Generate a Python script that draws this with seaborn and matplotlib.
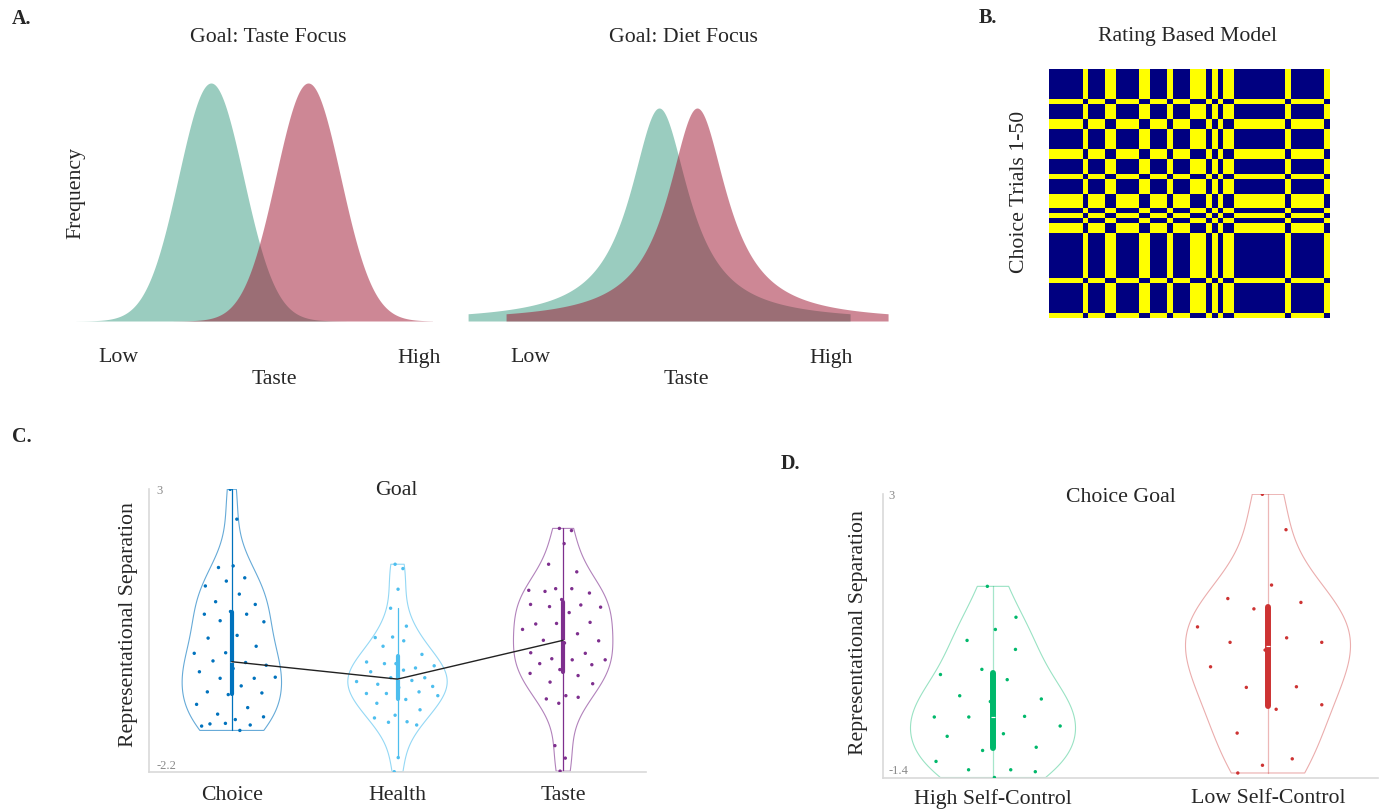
import numpy as np
import pandas as pd
import matplotlib
matplotlib.use("Agg")
import matplotlib.pyplot as plt
import seaborn as sns
from matplotlib.colors import ListedColormap

# ---------------- data ----------------
# A. illustrative taste distributions (location / spread on the taste scale)
taste_focus_means = [3.86, 6.56]      # green, red
taste_focus_sd = 0.9
diet_focus_locs = [5.50, 6.56]        # green, red
diet_focus_scale = 1.0

# B. rating based category of the 50 choice trials
trial_category = [0, 0, 0, 0, 0, 0, 1, 0, 0, 0,
                  1, 1, 0, 0, 0, 0, 1, 1, 0, 0,
                  0, 1, 0, 0, 0, 1, 1, 1, 0, 1,
                  0, 1, 1, 0, 0, 0, 0, 0, 0, 0,
                  0, 0, 1, 0, 0, 0, 0, 0, 0, 1]

# C. representational separation by goal
goal_names = ["Choice", "Health", "Taste"]
choice_vals = [3.0, 2.45, 1.59, 1.56, 1.37, 1.31, 1.22, 1.07, 0.93, 0.88, 0.75, 0.70,
               0.70, 0.58, 0.56, 0.31, 0.26, 0.11, -0.01, -0.02, -0.19, -0.16, -0.24,
               -0.30, -0.36, -0.48, -0.48, -0.46, -0.62, -0.73, -0.75, -0.78, -0.96,
               -1.02, -1.14, -1.19, -1.24, -1.32, -1.34, -1.31, -1.36, -1.44]
health_vals = [1.62, 1.54, 1.16, 0.81, 0.48, 0.28, 0.27, 0.21, 0.11, -0.04, -0.21, -0.18,
               -0.29, -0.21, -0.25, -0.33, -0.36, -0.47, -0.47, -0.54, -0.52, -0.59,
               -0.63, -0.65, -0.76, -0.73, -0.76, -0.80, -0.87, -0.94, -1.06, -1.16,
               -1.21, -1.28, -1.29, -1.34, -1.94, -2.20]
taste_vals = [2.28, 2.24, 2.00, 1.62, 1.48, 1.17, 1.14, 1.17, 1.12, 1.09, 0.97, 0.88,
              0.87, 0.84, 0.83, 0.73, 0.52, 0.55, 0.53, 0.42, 0.34, 0.22, 0.21, 0.17,
              -0.01, -0.02, -0.12, -0.14, -0.14, -0.21, -0.23, -0.32, -0.39, -0.43,
              -0.55, -0.58, -0.80, -0.86, -0.83, -0.94, -1.72, -1.95, -2.19]

# D. choice goal separation by self-control group
sc_names = ["High Self-Control", "Low Self-Control"]
high_sc_vals = [1.57, 1.09, 0.90, 0.73, 0.59, 0.28, 0.20, 0.12, -0.13, -0.18, -0.22,
                -0.46, -0.45, -0.46, -0.60, -0.72, -0.76, -0.93, -0.98, -1.15, -1.28,
                -1.28, -1.31, -1.40]
low_sc_vals = [3.0, 2.45, 1.59, 1.38, 1.32, 1.22, 0.94, 0.77, 0.70, 0.70, 0.58, 0.32,
               0.01, 0.0, -0.27, -0.34, -0.71, -1.11, -1.21, -1.33]

# colours
dist_colors = ["#9ACCBF", "#9D112D"]
goal_colors = ["#0072BD", "#4DBEEE", "#7E2F8E"]
sc_colors = ["#00B86B", "#CD3333"]

# ---------------- setup ----------------
sns.set_theme(style="white")
plt.rcParams["font.family"] = ["Liberation Serif", "DejaVu Serif"]
LBL = 15.7

W, H = 1381, 810
fig = plt.figure(figsize=(W / 100, H / 100), dpi=100)


def px_axes(x0, y0, x1, y1):
    return fig.add_axes([x0 / W, 1 - y1 / H, (x1 - x0) / W, (y1 - y0) / H])


def px_text(x, y, s, **kw):
    kw.setdefault("ha", "center")
    kw.setdefault("va", "center")
    kw.setdefault("fontsize", LBL)
    fig.text(x / W, 1 - y / H, s, **kw)


def norm_pdf(x, m, s):
    return np.exp(-0.5 * ((x - m) / s) ** 2) / (s * np.sqrt(2 * np.pi))


def cauchy_pdf(x, m, g):
    return 1 / (np.pi * g * (1 + ((x - m) / g) ** 2))


def jitter_x(vals, pos, half_width=0.3):
    # spread points inside the violin, scaled by the kde
    v = np.asarray(vals, dtype=float)
    bw = v.std(ddof=1) * len(v) ** (-1 / 5)
    grid = np.linspace(v.min(), v.max(), 200)

    def dens(y):
        return np.exp(-0.5 * ((y[:, None] - v[None, :]) / bw) ** 2).sum(1)

    scale = dens(v) / dens(grid).max()
    u = ((np.arange(len(v)) * 0.618034 + 0.3) % 1) * 2 - 1
    return pos + u * half_width * 0.9 * scale


# ---------------- A ----------------
axA1 = px_axes(72, 60, 432, 321)
for m, col, a in zip(taste_focus_means, dist_colors, [1.0, 0.5]):
    xs = np.linspace(m - 3.75, m + 3.75, 400)
    axA1.fill_between(xs, norm_pdf(xs, m, taste_focus_sd), color=col, alpha=a, linewidth=0)
axA1.set_xlim(0, 10)
axA1.set_ylim(0, norm_pdf(0, 0, taste_focus_sd) * 261 / 238)
axA1.axis("off")

axA2 = px_axes(462, 60, 892, 321)
for m, col, a in zip(diet_focus_locs, dist_colors, [1.0, 0.5]):
    xs = np.linspace(m - 5.33, m + 5.33, 600)
    axA2.fill_between(xs, cauchy_pdf(xs, m, diet_focus_scale), color=col, alpha=a, linewidth=0)
axA2.set_xlim(0, 12)
axA2.set_ylim(0, cauchy_pdf(0, 0, diet_focus_scale) * 261 / 213)
axA2.axis("off")

px_text(12, 19, "A.", ha="left", fontsize=14.5, fontweight="bold")
px_text(268, 37, "Goal: Taste Focus")
px_text(683, 37, "Goal: Diet Focus")
px_text(76, 193, "Frequency", rotation=90)
px_text(118, 358, "Low")
px_text(419, 358, "High")
px_text(274, 379, "Taste")
px_text(530, 358, "Low")
px_text(831, 358, "High")
px_text(686, 379, "Taste")

# ---------------- B ----------------
cat = np.array(trial_category)
rdm = (cat[:, None] != cat[None, :]).astype(int)
axB = px_axes(1049, 69, 1330, 318)
sns.heatmap(rdm, cmap=ListedColormap(["#000080", "#FFFF00"]), cbar=False,
            xticklabels=False, yticklabels=False, ax=axB)
px_text(979, 18, "B.", ha="left", fontsize=14.5, fontweight="bold")
px_text(1187, 37, "Rating Based Model")
px_text(1020, 192, "Choice Trials 1-50", rotation=90)


# ---------------- C & D ----------------
def make_df(names, groups):
    parts = []
    for i, (n, vals) in enumerate(zip(names, groups)):
        parts.append(pd.DataFrame({"group": n, "value": vals, "jx": jitter_x(vals, i)}))
    return pd.concat(parts, ignore_index=True)


def violin_panel(ax, df, names, colors, box_w, edge_alpha, whis_alpha, lo, hi,
                 tick_pad, xlab_pad, xlim):
    sns.violinplot(data=df, x="group", y="value", hue="group", order=names, hue_order=names,
                   palette=colors, fill=False, cut=0, width=0.6, density_norm="width",
                   inner="box", inner_kws=dict(box_width=box_w, whis_width=0.9),
                   linewidth=0.8, legend=False, ax=ax)
    for coll in ax.collections:
        coll.set_alpha(edge_alpha)
    for ln in ax.lines:
        if abs(ln.get_linewidth() - 0.9) < 1e-6:
            ln.set_alpha(whis_alpha)
    sns.scatterplot(data=df, x="jx", y="value", hue="group", hue_order=names, palette=colors,
                    s=6, linewidth=0, legend=False, ax=ax, zorder=4)
    ax.set_xlim(*xlim)
    ax.set_ylim(lo, hi)
    ax.set_xticks(range(len(names)))
    ax.set_xticklabels(names, fontsize=LBL)
    ax.set_yticks([lo, hi])
    ax.set_yticklabels([f"{lo:g}", f"{hi:g}"])
    ax.tick_params(axis="x", length=0, pad=xlab_pad)
    ax.tick_params(axis="y", length=0, pad=tick_pad, labelsize=9, labelcolor="#8a8a8a")
    for t in ax.get_yticklabels():
        t.set_ha("left")
    ax.get_yticklabels()[0].set_va("bottom")
    ax.set_xlabel("")
    sns.despine(ax=ax)
    for sp in ("left", "bottom"):
        ax.spines[sp].set_color("#d9d9d9")
        ax.spines[sp].set_linewidth(1.2)
    ax.set_facecolor("white")


goal_df = make_df(goal_names, [choice_vals, health_vals, taste_vals])
axC = px_axes(149, 489.3, 646, 771.7)
violin_panel(axC, goal_df, goal_names, goal_colors, 3.0, 0.6, 1.0, -2.2, 3, -5.5, 10,
             (-0.5, 2.5))
sns.pointplot(data=goal_df, x="group", y="value", order=goal_names, estimator="median",
              errorbar=None, color="#222222", markersize=0, linewidth=1, ax=axC, zorder=5)
axC.set_xlim(-0.5, 2.5)
axC.set_xlabel("")
axC.set_ylabel("Representational Separation", fontsize=LBL, va="center")
axC.yaxis.set_label_coords(-0.041, 0.52)
axC.text(0.497, 0.994, "Goal", transform=axC.transAxes, ha="center", va="center", fontsize=LBL)
px_text(12, 437, "C.", ha="left", fontsize=14.5, fontweight="bold")

sc_df = make_df(sc_names, [high_sc_vals, low_sc_vals])
axD = px_axes(883, 494.3, 1378, 777.5)
violin_panel(axD, sc_df, sc_names, sc_colors, 4.3, 0.4, 0.35, -1.4, 3, -3.8, 8.5,
             (-0.4, 1.4))
axD.set_ylabel("Representational Separation", fontsize=LBL, va="center")
axD.yaxis.set_label_coords(-0.049, 0.512)
axD.text(0.481, 0.99, "Choice Goal", transform=axD.transAxes, ha="center", va="center",
         fontsize=LBL)
px_text(781, 464, "D.", ha="left", fontsize=14.5, fontweight="bold")

fig.savefig("out.png", dpi=100)
